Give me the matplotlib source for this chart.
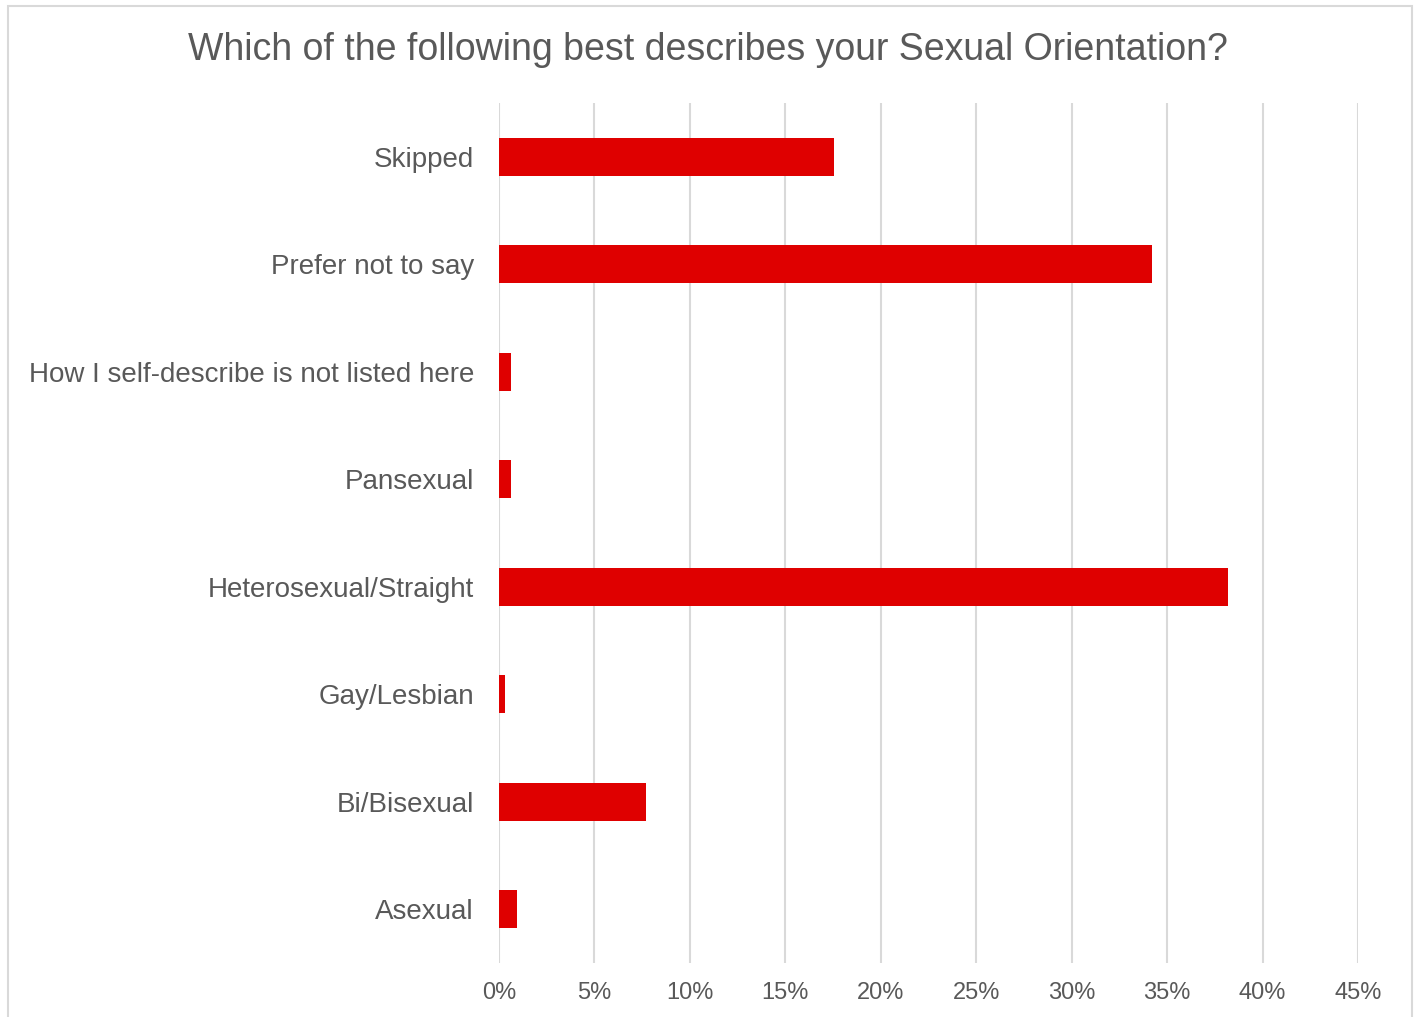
import matplotlib.pyplot as plt
from matplotlib.patches import Rectangle

plt.rcParams['font.family'] = ['Liberation Sans', 'DejaVu Sans']

categories = ["Asexual", "Bi/Bisexual", "Gay/Lesbian", "Heterosexual/Straight",
              "Pansexual", "How I self-describe is not listed here",
              "Prefer not to say", "Skipped"]
shares = [0.94, 7.7, 0.31, 38.2, 0.63, 0.63, 34.2, 17.55]
xticks = list(range(0, 50, 5))

text_color = "#595959"

fig = plt.figure(figsize=(14.16, 10.17), dpi=100)
ax = fig.add_axes([0.3524, 0.0531, 0.6066, 0.8456])

ax.barh(range(len(categories)), shares, height=0.35, color="#DF0000", zorder=3)

ax.set_xlim(0, 45)
ax.set_ylim(-0.5, len(categories) - 0.5)
ax.set_xticks(xticks)
ax.set_xticklabels([f"{t}%" for t in xticks])
ax.set_yticks(range(len(categories)))
ax.set_yticklabels(categories)
ax.tick_params(axis="both", length=0, colors=text_color, labelsize=17)
ax.tick_params(axis="y", pad=18, labelsize=20)
ax.tick_params(axis="x", pad=14)
ax.grid(axis="x", color="#D9D9D9", linewidth=1.5, zorder=0)
for s in ax.spines.values():
    s.set_visible(False)

fig.text(0.5, 0.951, "Which of the following best describes your Sexual Orientation?",
         ha="center", va="center", fontsize=27, color=text_color)

# outer chart border
fig.patches.append(Rectangle((8 / 1416, -0.01), 1404 / 1416, 1.01 - 6 / 1017,
                             transform=fig.transFigure, fill=False,
                             edgecolor="#D9D9D9", linewidth=1.5))

fig.savefig("out.png", dpi=100)
